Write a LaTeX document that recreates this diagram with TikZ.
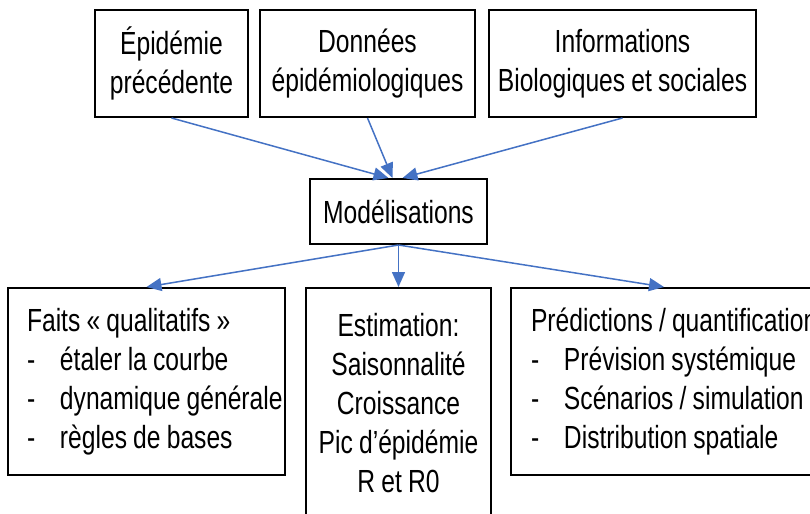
\documentclass[tikz,border=0pt]{standalone}
\usepackage{fontspec}
\setmainfont[FakeStretch=0.77,WordSpace=0.9]{Liberation Sans}
\usepackage{tikz}
\usetikzlibrary{arrows.meta,positioning}
\usepackage{xcolor}
\definecolor{bleufleche}{RGB}{68,114,196}
\newcommand{\puce}[1]{\mbox{\makebox[16.5pt][l]{-}#1}}

\begin{document}
\begin{tikzpicture}[x=0.5pt,y=-0.5pt]
	\useasboundingbox (0,0) rectangle (810,514);
	\clip (0,0) rectangle (810,514);
	\begin{scope}[every node/.style={draw,line width=1pt,inner sep=0pt,align=center,font=\fontsize{16}{19.5}\selectfont}]
		\node[minimum width=76.5pt,minimum height=53.5pt] (epi) at (171.5,63.5) {Épidémie\\précédente};
		\node[minimum width=107.5pt,minimum height=53.5pt,right =5pt of epi] (don) {Données\\épidémiologiques};
		\node[minimum width=133.5pt,minimum height=53.5pt,right =6pt of don] (info) {Informations\\Biologiques et sociales};
		
		\node[minimum width=88.5pt,minimum height=32.5pt] (modl) at (398.5,211.5) {Modélisations};
		
		\node[minimum width=138.5pt,minimum height=93.5pt,inner xsep=9.5pt,text width=119.5pt,align=flush left] (faits) at (146.5,381.5) {\mbox{Faits « qualitatifs »}\\\puce{étaler la courbe}\\\puce{dynamique générale}\\\puce{règles de bases}};
		\node[minimum width=92.5pt,minimum height=115pt,right =9.5pt of faits.north east,anchor=north west] (estim) {Estimation:\\Saisonnalité\\Croissance\\Pic d’épidémie\\R et R0};
		\node[minimum width=153pt,minimum height=93.5pt,inner xsep=10pt,text width=133pt,align=flush left,right =9pt of estim.north east,anchor=north west] (pred) {\mbox{Prédictions / quantification}\\\puce{Prévision systémique}\\\puce{Scénarios / simulation}\\\puce{Distribution spatiale}};
	\end{scope}
	\begin{scope}[lien/.style={draw=bleufleche,line width=0.75pt,-{Triangle[length=7.5pt,width=6.5pt]}}]
		\draw[lien] (epi.south) -- ([xshift=-5pt]modl.north);
		\draw[lien] (don.south) -- ([xshift=-3pt]modl.north);
		\draw[lien] (info.south) -- ([xshift=2pt]modl.north);
		
		\draw[lien] (modl.south) -- (faits.north);
		\draw[lien] (modl.south) -- (estim.north);
		\draw[lien] (modl.south) -- (pred.north);
	\end{scope}
\end{tikzpicture}
\end{document}
